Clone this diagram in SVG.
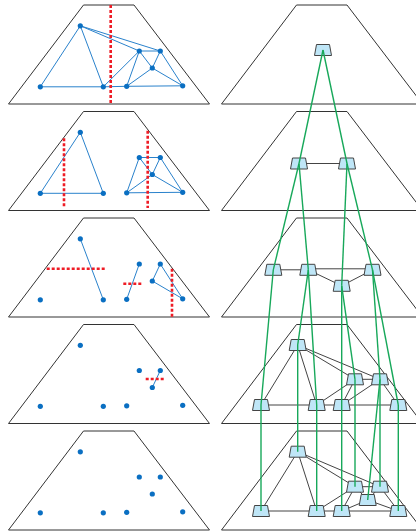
<svg xmlns="http://www.w3.org/2000/svg" width="416" height="531" viewBox="0 0 416 531">
<defs>
<style>
.trap{fill:none;stroke:#333;stroke-width:1}
.e{stroke:#2a82cc;stroke-width:1;fill:none}
.pt{fill:#0a6fc2}
.cut{stroke:#ee1c25;stroke-width:2.6;stroke-dasharray:3 2;fill:none}
.ge{stroke:#444;stroke-width:1;fill:none}
.nd{fill:#bfe6f7;stroke:#444;stroke-width:1}
.gr{stroke:#17a85a;stroke-width:1.4;fill:none}
</style>
<polygon id="trapL" class="trap" points="83.5,5 134,5 209.5,104 8.5,104"/>
<path id="node" class="nd" d="M-6.5,-5.5 L6.5,-5.5 L8.5,5.5 L-8.5,5.5 Z"/>
<g id="pts">
<circle class="pt" cx="80.3" cy="25.8" r="2.6"/>
<circle class="pt" cx="40.3" cy="86.8" r="2.6"/>
<circle class="pt" cx="103.3" cy="86.8" r="2.6"/>
<circle class="pt" cx="126.7" cy="86.3" r="2.6"/>
<circle class="pt" cx="139.3" cy="51" r="2.6"/>
<circle class="pt" cx="160.3" cy="51" r="2.6"/>
<circle class="pt" cx="152.3" cy="68" r="2.6"/>
<circle class="pt" cx="182.7" cy="85.8" r="2.6"/>
</g>
</defs>
<rect width="416" height="531" fill="#fff"/>

<!-- Left column -->
<g id="left1">
<use href="#trapL"/>
<g class="e">
<line x1="80.3" y1="25.8" x2="40.3" y2="86.8"/>
<line x1="80.3" y1="25.8" x2="103.3" y2="86.8"/>
<line x1="80.3" y1="25.8" x2="139.3" y2="51"/>
<line x1="80.3" y1="25.8" x2="160.3" y2="51"/>
<line x1="40.3" y1="86.8" x2="103.3" y2="86.8"/>
<line x1="103.3" y1="86.8" x2="126.7" y2="86.3"/>
<line x1="126.7" y1="86.3" x2="182.7" y2="85.8"/>
<line x1="139.3" y1="51" x2="160.3" y2="51"/>
<line x1="103.3" y1="86.8" x2="139.3" y2="51"/>
<line x1="126.7" y1="86.3" x2="139.3" y2="51"/>
<line x1="139.3" y1="51" x2="152.3" y2="68"/>
<line x1="160.3" y1="51" x2="152.3" y2="68"/>
<line x1="160.3" y1="51" x2="182.7" y2="85.8"/>
<line x1="152.3" y1="68" x2="182.7" y2="85.8"/>
<line x1="126.7" y1="86.3" x2="152.3" y2="68"/>
</g>
<use href="#pts"/>
<line class="cut" x1="110.7" y1="5" x2="110.7" y2="103"/>
</g>

<g id="left2" transform="translate(0,106.5)">
<use href="#trapL"/>
<g class="e">
<line x1="80.3" y1="25.8" x2="40.3" y2="86.8"/>
<line x1="80.3" y1="25.8" x2="103.3" y2="86.8"/>
<line x1="40.3" y1="86.8" x2="103.3" y2="86.8"/>
<line x1="126.7" y1="86.3" x2="182.7" y2="85.8"/>
<line x1="139.3" y1="51" x2="160.3" y2="51"/>
<line x1="126.7" y1="86.3" x2="139.3" y2="51"/>
<line x1="139.3" y1="51" x2="152.3" y2="68"/>
<line x1="160.3" y1="51" x2="152.3" y2="68"/>
<line x1="160.3" y1="51" x2="182.7" y2="85.8"/>
<line x1="152.3" y1="68" x2="182.7" y2="85.8"/>
<line x1="126.7" y1="86.3" x2="152.3" y2="68"/>
</g>
<use href="#pts"/>
<line class="cut" x1="64" y1="31.8" x2="64" y2="101.8"/>
<line class="cut" x1="147.7" y1="24.2" x2="147.7" y2="101.5"/>
</g>

<g id="left3" transform="translate(0,213)">
<use href="#trapL"/>
<g class="e">
<line x1="80.3" y1="25.8" x2="103.3" y2="86.8"/>
<line x1="126.7" y1="86.3" x2="139.3" y2="51"/>
<line x1="160.3" y1="51" x2="152.3" y2="68"/>
<line x1="160.3" y1="51" x2="182.7" y2="85.8"/>
<line x1="152.3" y1="68" x2="182.7" y2="85.8"/>
</g>
<use href="#pts"/>
<line class="cut" x1="46.7" y1="55.7" x2="106" y2="55.7"/>
<line class="cut" x1="123.3" y1="70.7" x2="143.3" y2="70.7"/>
<line class="cut" x1="172" y1="55.7" x2="172" y2="104"/>
</g>

<g id="left4" transform="translate(0,319.5)">
<use href="#trapL"/>
<g class="e">
<line x1="160.3" y1="51" x2="152.3" y2="68"/>
</g>
<use href="#pts"/>
<line class="cut" x1="145.7" y1="59.5" x2="165" y2="59.5"/>
</g>

<g id="left5" transform="translate(0,426)">
<use href="#trapL"/>
<use href="#pts"/>
</g>

<!-- Right column outlines -->
<g id="frames-right">
<use href="#trapL" transform="translate(213,0)"/>
<use href="#trapL" transform="translate(213,106.5)"/>
<use href="#trapL" transform="translate(213,213)"/>
<use href="#trapL" transform="translate(213,319.5)"/>
<use href="#trapL" transform="translate(213,426)"/>
</g>

<!-- Right column edges -->
<g id="edges" class="ge">
<line x1="299" y1="163.5" x2="347" y2="163.5"/>
<line x1="273.3" y1="269.8" x2="308.3" y2="269.8"/>
<line x1="308.3" y1="268.8" x2="372.5" y2="268.8"/>
<line x1="308.3" y1="269.8" x2="341.7" y2="285.8"/>
<line x1="341.7" y1="285.8" x2="372.5" y2="269.8"/>
<line x1="297.7" y1="345" x2="261" y2="405"/>
<line x1="297.7" y1="345" x2="316.7" y2="405"/>
<line x1="297.7" y1="345" x2="355" y2="379.3"/>
<line x1="297.7" y1="345" x2="380" y2="379.3"/>
<line x1="355" y1="379.3" x2="380" y2="379.3"/>
<line x1="355" y1="379.3" x2="316.7" y2="405"/>
<line x1="355" y1="379.3" x2="341.7" y2="405"/>
<line x1="380" y1="379.3" x2="341.7" y2="405"/>
<line x1="380" y1="379.3" x2="398.3" y2="405"/>
<line x1="261" y1="405" x2="398.3" y2="405"/>
<line x1="297.7" y1="451.7" x2="261" y2="511"/>
<line x1="297.7" y1="451.7" x2="316.7" y2="511"/>
<line x1="297.7" y1="451.7" x2="355" y2="486.7"/>
<line x1="297.7" y1="451.7" x2="380" y2="486.7"/>
<line x1="355" y1="486.7" x2="380" y2="486.7"/>
<line x1="355" y1="486.7" x2="367.7" y2="500"/>
<line x1="380" y1="486.7" x2="367.7" y2="500"/>
<line x1="355" y1="486.7" x2="316.7" y2="511"/>
<line x1="355" y1="486.7" x2="341.7" y2="511"/>
<line x1="367.7" y1="500" x2="341.7" y2="511"/>
<line x1="367.7" y1="500" x2="398.3" y2="511"/>
<line x1="380" y1="486.7" x2="398.3" y2="511"/>
<line x1="261" y1="511" x2="398.3" y2="511"/>
</g>

<!-- Right column nodes -->
<g id="n1"><use href="#node" x="323" y="50"/></g>
<g id="n2a"><use href="#node" x="299" y="163.5"/></g>
<g id="n2b"><use href="#node" x="347" y="163.5"/></g>
<g id="n3a"><use href="#node" x="273.3" y="269.8"/></g>
<g id="n3b"><use href="#node" x="308.3" y="269.8"/></g>
<g id="n3c"><use href="#node" x="341.7" y="285.8"/></g>
<g id="n3d"><use href="#node" x="372.5" y="269.8"/></g>
<g id="n4a"><use href="#node" x="297.7" y="345"/></g>
<g id="n4b"><use href="#node" x="355" y="379.3"/></g>
<g id="n4c"><use href="#node" x="380" y="379.3"/></g>
<g id="n4d"><use href="#node" x="261" y="405"/></g>
<g id="n4e"><use href="#node" x="316.7" y="405"/></g>
<g id="n4f"><use href="#node" x="341.7" y="405"/></g>
<g id="n4g"><use href="#node" x="398.3" y="405"/></g>
<g id="n5a"><use href="#node" x="297.7" y="451.7"/></g>
<g id="n5b"><use href="#node" x="355" y="486.7"/></g>
<g id="n5c"><use href="#node" x="380" y="486.7"/></g>
<g id="n5d"><use href="#node" x="367.7" y="500"/></g>
<g id="n5e"><use href="#node" x="261" y="511"/></g>
<g id="n5f"><use href="#node" x="316.7" y="511"/></g>
<g id="n5g"><use href="#node" x="341.7" y="511"/></g>
<g id="n5h"><use href="#node" x="398.3" y="511"/></g>

<!-- Hierarchy connectors -->
<g id="links" class="gr">
<line x1="323" y1="50" x2="299" y2="163.5"/>
<line x1="323" y1="50" x2="347" y2="163.5"/>
<line x1="299" y1="163.5" x2="273.3" y2="269.8"/>
<line x1="299" y1="163.5" x2="308.3" y2="269.8"/>
<line x1="347" y1="163.5" x2="341.7" y2="285.8"/>
<line x1="347" y1="163.5" x2="372.5" y2="269.8"/>
<line x1="273.3" y1="269.8" x2="261" y2="405"/>
<line x1="308.3" y1="269.8" x2="297.7" y2="345"/>
<line x1="308.3" y1="269.8" x2="316.7" y2="405"/>
<line x1="341.7" y1="285.8" x2="355" y2="379.3"/>
<line x1="341.7" y1="285.8" x2="341.7" y2="405"/>
<line x1="372.5" y1="269.8" x2="380" y2="379.3"/>
<line x1="372.5" y1="269.8" x2="398.3" y2="405"/>
<line x1="297.7" y1="345" x2="297.7" y2="451.7"/>
<line x1="355" y1="379.3" x2="355" y2="486.7"/>
<line x1="380" y1="379.3" x2="380" y2="486.7"/>
<line x1="380" y1="379.3" x2="367.7" y2="500"/>
<line x1="261" y1="405" x2="261" y2="511"/>
<line x1="316.7" y1="405" x2="316.7" y2="511"/>
<line x1="341.7" y1="405" x2="341.7" y2="511"/>
<line x1="398.3" y1="405" x2="398.3" y2="511"/>
</g>
</svg>
